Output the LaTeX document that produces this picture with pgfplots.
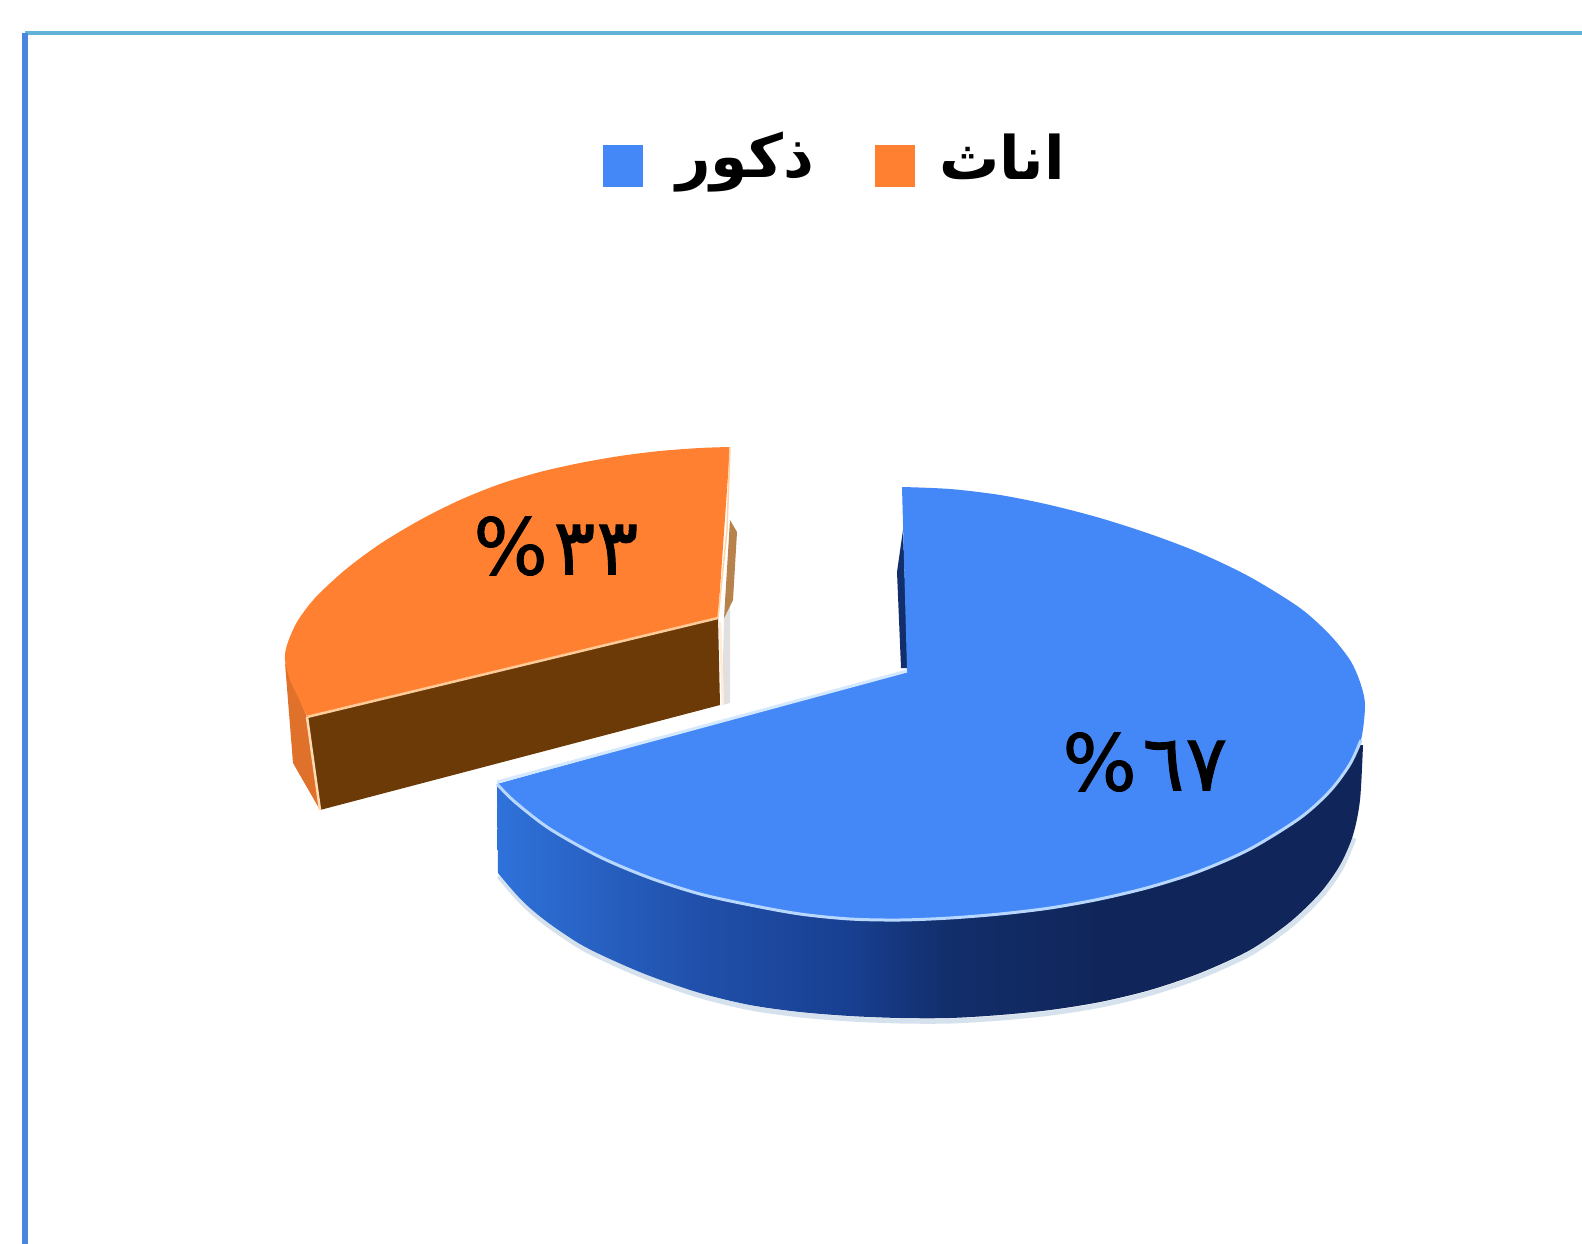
\documentclass[border=0pt]{standalone}
\usepackage{fontspec}
\usepackage{pgfplots}
\pgfplotsset{compat=1.18}
\setmainfont{Liberation Sans}
\newfontfamily\arabicfont[Script=Arabic]{DejaVu Sans}
\newfontfamily\numfont[Script=Arabic,FakeBold=1.2]{DejaVu Sans}
\TeXXeTstate=1
\definecolor{pieblue}{HTML}{4488F8}
\definecolor{pieorange}{HTML}{FF8030}
\definecolor{piebrown}{HTML}{6B3A06}
\definecolor{frameL}{HTML}{4A86E0}
\definecolor{frameT}{HTML}{62B4D6}
\definecolor{bandA}{HTML}{2F72DA}
\definecolor{bandB}{HTML}{2050AB}
\definecolor{bandC}{HTML}{183F90}
\definecolor{bandD}{HTML}{122E6B}
\definecolor{bandE}{HTML}{10265A}
\definecolor{rimblue}{HTML}{B8D8FF}
\definecolor{glow}{HTML}{D5E2EE}
\pgfdeclarehorizontalshading{bandshade}{100bp}{
  color(0bp)=(bandA);
  color(25bp)=(bandA);
  color(36.5bp)=(bandB);
  color(45.5bp)=(bandC);
  color(51bp)=(bandD);
  color(60bp)=(bandE);
  color(100bp)=(bandE)}
\begin{document}
\begin{tikzpicture}
\begin{axis}[
  scale only axis, width=1582pt, height=1244pt,
  xmin=0, xmax=1582, ymin=0, ymax=1244, y dir=reverse,
  hide axis, clip=true]
% frame
\addplot[draw=none, fill=white] coordinates {(0,0)(1582,0)(1582,1244)(0,1244)} -- cycle;
\addplot[frameT, line width=3.2pt] coordinates {(25,33)(1582,33)};
\addplot[frameL, line width=5.5pt] coordinates {(25,33)(25,1244)};
% legend
\addplot[draw=none, fill=pieblue] coordinates {(603,145)(643,145)(643,187)(603,187)} -- cycle;
\addplot[draw=none, fill=pieorange] coordinates {(875,145)(915,145)(915,187)(875,187)} -- cycle;
% blue glow under the side
\addplot[draw=glow, line width=5pt, smooth, tension=0.5] coordinates {(499,876)(516,896)(531,911)(551,927)(581,947)(611,962)(651,979)(701,996)(751,1008)(801,1015)(851,1019)(901,1021)(951,1021)(1001,1018)(1051,1013)(1101,1005)(1151,993)(1201,976)(1251,953)(1291,925)(1321,896)(1341,868)(1354,838)};
% blue side band
\addplot[draw=none, shading=bandshade, smooth, tension=0.5] coordinates {(498,873)(515,893)(530,908)(550,924)(580,944)(610,959)(650,976)(700,993)(750,1005)(800,1012)(850,1016)(900,1018)(950,1018)(1000,1015)(1050,1010)(1100,1002)(1150,990)(1200,973)(1250,950)(1290,922)(1320,893)(1340,865)(1353,835)(1360,800)(1363,745)} -- (axis cs:497,785) -- cycle;
% blue inner sliver
\addplot[draw=none, fill=bandD] coordinates {(903,530)(897,572)(901,668)(908,668)} -- cycle;
% blue top face
\addplot[fill=pieblue, draw=none, smooth, tension=0.5] coordinates {(497,784)(515,802)(550,829)(600,857)(650,878)(700,894)(750,905)(800,914)(850,919)(900,920)(950,918)(1000,914)(1050,908)(1100,899)(1150,887)(1200,871)(1250,849)(1300,818)(1330,791)(1350,764)(1361,740)(1365,705)(1360,682)(1350,660)(1330,635)(1300,608)(1250,577)(1200,553)(1150,534)(1100,518)(1050,505)(1000,495)(950,489)(902,487)} -- (axis cs:907,670) -- cycle;
\addplot[draw=rimblue, line width=3pt, smooth, tension=0.5] coordinates {(497,784)(515,802)(550,829)(600,857)(650,878)(700,894)(750,905)(800,914)(850,919)(900,920)(950,918)(1000,914)(1050,908)(1100,899)(1150,887)(1200,871)(1250,849)(1300,818)(1330,791)(1350,764)(1361,740)};
\addplot[draw=rimblue!60!white, line width=3pt] coordinates {(497,782)(907,671)};
% orange right sliver
\addplot[draw=none, fill=black!12] coordinates {(724,618)(730,600)(730,703)(722,705)} -- cycle;
\addplot[draw=none, fill=black!40!orange!70!white] coordinates {(730,520)(737,532)(733,600)(724,618)} -- cycle;
% orange left side
\addplot[draw=none, fill=pieorange!88!black] coordinates {(285,663)(307,717)(320,810)(293,763)} -- cycle;
% orange front
\addplot[draw=none, fill=piebrown] coordinates {(307,717)(718,618)(720,705)(320,810)} -- cycle;
\addplot[draw=white!70!orange, line width=2.5pt] coordinates {(307,717)(320,810)};
\addplot[draw=white!75!orange!60!white, line width=2.5pt] coordinates {(720,622)(723,705)};
% orange top
\addplot[fill=pieorange, draw=none, smooth, tension=0.5] coordinates {(307,716)(298,697)(290,680)(285,660)(287,645)(297,622)(315,598)(345,570)(380,544)(420,520)(460,500)(500,484)(540,472)(580,463)(620,456)(660,451)(700,448)(730,447)} -- (axis cs:718,618) -- cycle;
\addplot[draw=white!60!orange, line width=2.5pt] coordinates {(307,717)(718,618)};
\addplot[draw=white!65!orange, line width=1.5pt] coordinates {(730,447)(727,530)(718,618)};
% text
\node[anchor=center, inner sep=0pt] at (axis cs:745,162) {\fontsize{60}{64}\selectfont\arabicfont\bfseries\beginR ذكور\endR};
\node[anchor=center, inner sep=0pt] at (axis cs:1002,157) {\fontsize{60}{64}\selectfont\arabicfont\bfseries\beginR اناث\endR};
\node[anchor=center, inner sep=0pt] at (axis cs:556,546) {\fontsize{78}{82}\selectfont\numfont \%\kern6pt ٣\kern1pt ٣};
\node[anchor=center, inner sep=0pt] at (axis cs:1145,762) {\fontsize{78}{82}\selectfont\numfont \%\kern6pt ٦\kern1pt ٧};
\end{axis}
\end{tikzpicture}
\end{document}
